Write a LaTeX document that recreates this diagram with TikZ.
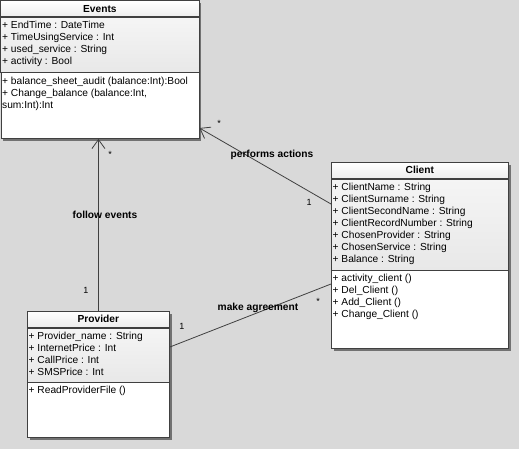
\documentclass[tikz,border=0pt]{standalone}
\usepackage{fontspec}
\setmainfont{Liberation Sans}
\usetikzlibrary{arrows.meta,shadows}
\tikzset{
  classbox/.style={draw=black!75,line width=0.9pt,fill=white,anchor=north west,inner sep=0pt,
    drop shadow={shadow xshift=2.5pt,shadow yshift=-2.5pt,fill=black!65,opacity=0.8}},
  headbox/.style={draw=black!75,line width=0.7pt,anchor=north west,inner sep=0pt,
    top color=white,bottom color=black!7,font=\bfseries\fontsize{10.2}{12}\selectfont},
  attrbox/.style={draw=black!75,line width=0.7pt,anchor=north west,inner sep=0pt,
    top color=black!4,bottom color=black!9},
  members/.style={anchor=north west,align=left,inner xsep=1.5pt,inner ysep=4pt,font=\fontsize{10.2}{12}\selectfont},
  assoc/.style={draw=black!75,line width=0.8pt},
  navarrow/.style={-{Straight Barb[length=9pt,width=13pt,line width=0.8pt]}},
  assoclabel/.style={font=\bfseries\fontsize{10.2}{12}\selectfont},
  mult/.style={font=\fontsize{9}{10}\selectfont}
}
\begin{document}
\begin{tikzpicture}[x=1pt,y=-1pt]
\useasboundingbox (0,0) rectangle (519,449);
\fill[black!15] (0,0) rectangle (519,449);
\node[classbox,minimum width=198pt,minimum height=137.5pt] (events) at (0.5,0.5) {};
\node[headbox,minimum width=198pt,minimum height=16pt] (events head) at (events.north west) {Events};
\node[attrbox,minimum width=198pt,minimum height=55pt] (events attr) at (events head.south west) {};
\node[members] at (events attr.north west) {+ EndTime : DateTime\\+ TimeUsingService : Int\\+ used\_service : String\\+ activity : Bool};
\node[members] at (events attr.south west) {+ balance\_sheet\_audit (balance:Int):Bool\\+ Change\_balance (balance:Int,\\sum:Int):Int};
\node[classbox,minimum width=177pt,minimum height=186pt] (client) at (331,162) {};
\node[headbox,minimum width=177pt,minimum height=16pt] (client head) at (client.north west) {Client};
\node[attrbox,minimum width=177pt,minimum height=91pt] (client attr) at (client head.south west) {};
\node[members] at (client attr.north west) {+ ClientName : String\\+ ClientSurname : String\\+ ClientSecondName : String\\+ ClientRecordNumber : String\\+ ChosenProvider : String\\+ ChosenService : String\\+ Balance : String};
\node[members] at (client attr.south west) {+ activity\_client ()\\+ Del\_Client ()\\+ Add\_Client ()\\+ Change\_Client ()};
\node[classbox,minimum width=142pt,minimum height=126pt] (provider) at (27,311) {};
\node[headbox,minimum width=142pt,minimum height=16pt] (provider head) at (provider.north west) {Provider};
\node[attrbox,minimum width=142pt,minimum height=54pt] (provider attr) at (provider head.south west) {};
\node[members] at (provider attr.north west) {+ Provider\_name : String\\+ InternetPrice : Int\\+ CallPrice : Int\\+ SMSPrice : Int};
\node[members] at (provider attr.south west) {+ ReadProviderFile ()};
\draw[assoc,navarrow] (provider.north) -- (provider.north |- events.south);
\draw[assoc,navarrow] (client.west |- 0,204) -- (events.east |- 0,128);
\draw[assoc] (provider.east |- 0,347) -- (client.west |- 0,284);
\node[assoclabel] at (105,215) {follow events};
\node[assoclabel] at (272,155) {performs actions};
\node[assoclabel] at (258,308) {make agreement};
\node[mult] at (110,154) {*};
\node[mult] at (86,290) {1};
\node[mult] at (219,123) {*};
\node[mult] at (309,202) {1};
\node[mult] at (182,326) {1};
\node[mult] at (318,301) {*};
\end{tikzpicture}
\end{document}
